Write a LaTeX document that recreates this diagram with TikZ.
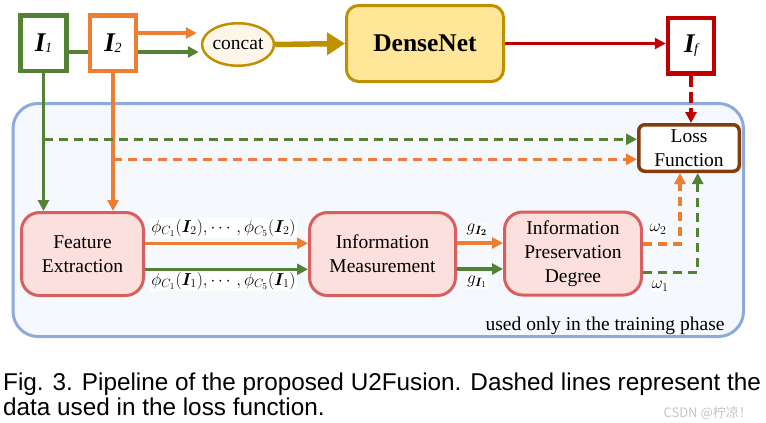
\documentclass[tikz,border=0pt]{standalone}
\usepackage{amsmath,bm}
\usepackage[no-math]{fontspec}
\setmainfont{Liberation Serif}
\newfontfamily\capfont{Liberation Sans}
\newfontfamily\cjkfont{Noto Sans CJK SC}
\usetikzlibrary{arrows.meta,shapes.geometric,calc}
\pgfdeclarelayer{bg}
\pgfsetlayers{bg,main}
\definecolor{cgreen}{HTML}{548235}
\definecolor{corange}{HTML}{ED7D31}
\definecolor{cgold}{HTML}{BF9000}
\definecolor{cgoldfill}{HTML}{FFE699}
\definecolor{ccream}{HTML}{FEF6E8}
\definecolor{cred}{HTML}{C00000}
\definecolor{cpink}{HTML}{FBE0DD}
\definecolor{cpinkline}{HTML}{D95F5F}
\definecolor{cblue}{HTML}{8EAADB}
\definecolor{cbluefill}{HTML}{F5F9FE}
\definecolor{cbrown}{HTML}{843C0C}
\definecolor{cwm}{HTML}{C4C4C4}
\newcommand{\imgI}[1]{{\fontsize{27}{27}\selectfont\bfseries\itshape I}\kern-0.5pt\raisebox{-1.5pt}{\fontsize{14}{14}\selectfont\itshape #1}}
\begin{document}
\begin{tikzpicture}[x=1pt,y=-1pt,
  txt/.style={font=\rmfamily\fontsize{19.5}{24}\selectfont, align=center},
  imgbox/.style={draw, line width=4.5pt, fill=white, minimum width=46pt, minimum height=55.5pt, inner sep=0pt},
  procbox/.style={draw=cpinkline, fill=cpink, line width=3pt, rounded corners=18pt, minimum height=83pt, inner sep=0pt, txt},
  lab/.style={fill=white, inner sep=1pt, font=\fontsize{18}{18}\selectfont},
  tip/.style={-{Triangle[length=11pt,width=11pt]}},
  arr/.style={line width=3.5pt, tip},
  dsh/.style={line width=3.5pt, tip, dash pattern=on 9pt off 6pt},
]
\useasboundingbox (0,0) rectangle (766,423);
% training container
\node[draw=cblue, fill=cbluefill, line width=3pt, rounded corners=25pt, minimum width=730.5pt, minimum height=233pt, inner sep=0pt] (train) at (378.25,220) {};
\node[txt, anchor=base east] (usedonly) at (728,330) {used only in the training phase};

% top row
\node[imgbox, draw=cgreen] (I1) at (43.5,43) {\imgI{1}};
\node[imgbox, draw=corange] (I2) at (113,43) {\imgI{2}};
\node[draw=cgold, fill=ccream, line width=2.5pt, ellipse, minimum width=67.5pt, minimum height=42.5pt, inner sep=0pt, txt] (concat) at (238,44.5) {concat};
\node[draw=cgold, fill=cgoldfill, line width=3pt, rounded corners=12pt, minimum width=157pt, minimum height=76pt, inner sep=0pt, font=\rmfamily\fontsize{25.5}{25.5}\selectfont\bfseries] (dense) at (425,43.5) {DenseNet};
\node[imgbox, draw=cred] (If) at (691,45.5) {\imgI{f}};

% loss
\node[draw=cbrown, fill=white, line width=3.5pt, rounded corners=6pt, minimum width=100.5pt, minimum height=46.5pt, inner sep=0pt, txt] (loss) at (689,148) {Loss\\Function};

% process boxes
\node[procbox, minimum width=122pt] (fe) at (82.5,254) {Feature\\Extraction};
\node[procbox, minimum width=146pt] (im) at (382.5,254) {Information\\Measurement};
\node[procbox, minimum width=137pt] (ipd) at (573,253.5) {Information\\Preservation\\Degree};

% top connectors
\begin{pgfonlayer}{bg}
\draw[arr, draw=cgreen, shorten >=2pt] ([yshift=-9pt]I1.east) -- ([yshift=-9pt]I1.east -| concat.west);
\end{pgfonlayer}
\draw[arr, draw=corange, shorten >=4pt] ([yshift=10pt]I2.east) -- ([yshift=10pt]I2.east -| concat.west);
\draw[line width=5.5pt, draw=cgold, -{Triangle[length=18pt,width=22pt]}] (concat.east) -- (dense.west);
\draw[arr, draw=cred] (dense.east) -- (dense.east -| If.west);
\draw[dsh, draw=cred, dash pattern=on 11pt off 5pt] (If.south) -- (If.south |- loss.north);

% down to feature extraction
\draw[arr, draw=cgreen] (I1.south) -- (I1.south |- fe.north);
\draw[arr, draw=corange] (I2.south) -- (I2.south |- fe.north);
\draw[dsh, draw=cgreen] ([yshift=8.7pt]loss.west -| I1.south) -- ([yshift=8.7pt]loss.west);
\draw[dsh, draw=corange] ([yshift=-11.3pt]loss.west -| I2.south) -- ([yshift=-11.3pt]loss.west);

% middle connectors
\draw[arr, draw=corange] ([yshift=10.7pt]fe.east) -- ([yshift=10.7pt]fe.east -| im.west);
\draw[arr, draw=cgreen] ([yshift=-15.3pt]fe.east) -- ([yshift=-15.3pt]fe.east -| im.west);
\draw[arr, draw=corange] ([yshift=11pt]im.east) -- ([yshift=11pt]im.east -| ipd.west);
\draw[arr, draw=cgreen] ([yshift=-15pt]im.east) -- ([yshift=-15pt]im.east -| ipd.west);
\draw[dsh, draw=corange] ([yshift=9.5pt]ipd.east) -| ([xshift=-9pt]loss.south);
\draw[dsh, draw=cgreen] ([yshift=-19pt]ipd.east) -| ([xshift=8.7pt]loss.south);

% labels
\node[lab] (phi2) at (223.5,228) {$\phi_{C_1}(\bm{I}_2),\cdots,\phi_{C_5}(\bm{I}_2)$};
\node[lab] (phi1) at (223.5,281) {$\phi_{C_1}(\bm{I}_1),\cdots,\phi_{C_5}(\bm{I}_1)$};
\node[lab] (g2) at (477,230) {$g_{\bm{I_2}}$};
\node[lab] (g1) at (477,282) {$g_{\bm{I}_1}$};
\node[lab] (w2) at (658,229) {$\omega_2$};
\node[lab] (w1) at (660,286) {$\omega_1$};

% caption
\node[anchor=base west, inner sep=0pt, font=\capfont\fontsize{24.3}{25}\selectfont] (cap1) at (3,390) {Fig. 3. Pipeline of the proposed U2Fusion. Dashed lines represent the};
\node[anchor=base west, inner sep=0pt, font=\capfont\fontsize{24.3}{25}\selectfont] (cap2) at (3,415) {data used in the loss function.};
\node[anchor=base east, inner sep=0pt, text=cwm, font=\cjkfont\fontsize{13}{13}\selectfont] (wm) at (752,417) {CSDN @柠凉！};
\end{tikzpicture}
\end{document}
